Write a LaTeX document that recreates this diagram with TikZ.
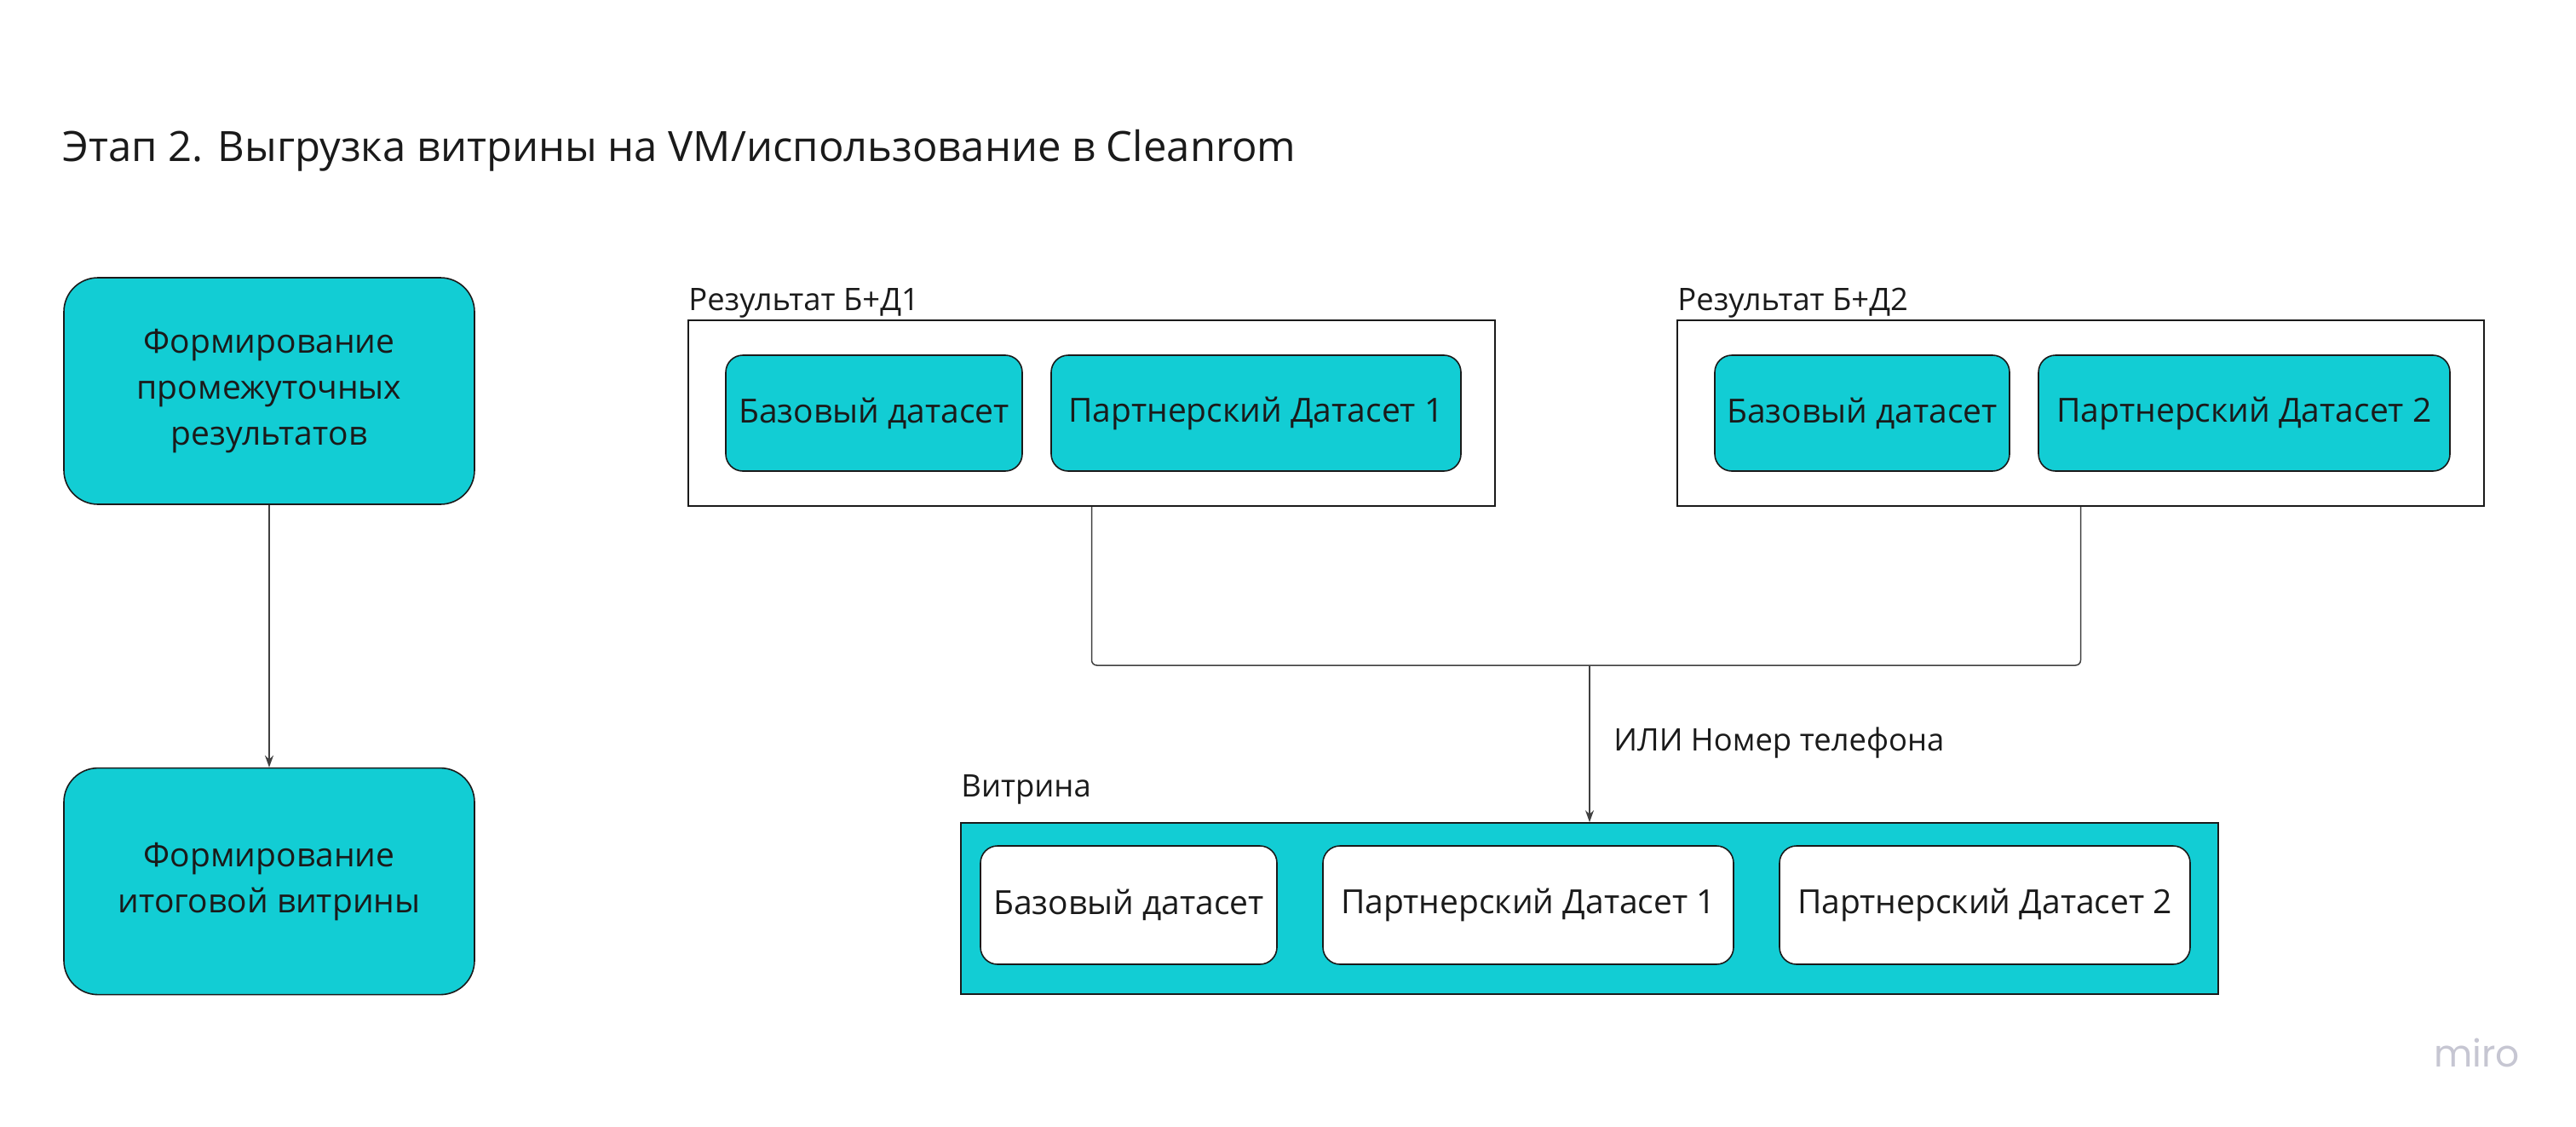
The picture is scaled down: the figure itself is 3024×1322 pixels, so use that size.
\documentclass[tikz,border=0pt]{standalone}
\usepackage{fontspec}
\setmainfont{Open Sans}
\newfontfamily\logofont{Poppins}
\usetikzlibrary{arrows.meta, positioning}
\definecolor{miroteal}{HTML}{12CDD4}
\definecolor{miroline}{HTML}{1A1A1A}
\definecolor{mirogrey}{HTML}{C6C6D2}
\tikzset{
  >={Stealth[length=7pt, width=5pt]},
  stage/.style={rectangle, rounded corners=20pt, draw=miroline, line width=0.8pt, fill=miroteal,
              align=center, minimum width=241pt, minimum height=133pt, text=miroline,
              font=\fontsize{19.5}{27}\selectfont},
  grp/.style={rectangle, draw=miroline, line width=0.8pt, minimum height=109pt},
  ds/.style={rectangle, rounded corners=10pt, draw=miroline, line width=0.8pt, fill=miroteal,
              minimum height=68pt, text=miroline, font=\fontsize{19.5}{27}\selectfont},
  dsw/.style={ds, fill=white},
  link/.style={draw=black!75, line width=0.75pt, rounded corners=3pt},
  flow/.style={->, draw=black!75, line width=0.75pt},
  lbl/.style={anchor=base west, inner sep=0pt, text=miroline, font=\fontsize{18.2}{24}\selectfont},
}

\begin{document}
\begin{tikzpicture}[x=0.5pt, y=-0.5pt]
  \useasboundingbox (0,0) rectangle (3024,1322);
  \node[lbl, font=\fontsize{24.5}{30}\selectfont] (title) at (73,189)
    {Этап 2. Выгрузка витрины на VM/использование в Cleanrom};

  % left column
  \node[stage] (form) at (316,459) {Формирование\\промежуточных\\результатов};
  \node[stage, below=154pt of form] (final) {Формирование\\итоговой витрины};
  \draw[flow] (form) -- (final);

  % result B+D1
  \node[grp, minimum width=473.5pt] (resone) at (1281.5,485) {};
  \node[lbl] (resonelbl) at (808,364) {Результат Б+Д1};
  \node[ds, minimum width=174pt] (baseone) at (1026,485) {Базовый датасет};
  \node[ds, minimum width=240.5pt] (partone) at (1474.5,485) {Партнерский Датасет 1};

  % result B+D2
  \node[grp, minimum width=473.5pt] (restwo) at (2442.5,485) {};
  \node[lbl] (restwolbl) at (1969,364) {Результат Б+Д2};
  \node[ds, minimum width=173pt] (basetwo) at (2186,485) {Базовый датасет};
  \node[ds, minimum width=241.5pt] (parttwo) at (2634.5,485) {Партнерский Датасет 2};

  % vitrina
  \node[grp, fill=miroteal, minimum width=738pt, minimum height=100.5pt] (vit) at (1866,1066.5) {};
  \node[lbl] (vitlbl) at (1128,935) {Витрина};
  \node[dsw, minimum width=174pt, minimum height=69.5pt] (vitbase) at (1325,1062.5) {Базовый датасет};
  \node[dsw, minimum width=241pt, minimum height=69.5pt] (vitone) at (1794,1062.5) {Партнерский Датасет 1};
  \node[dsw, minimum width=241pt, minimum height=69.5pt] (vittwo) at (2330,1062.5) {Партнерский Датасет 2};

  \coordinate (join) at (1866,781);
  \draw[link] (resone.south) |- (join) -| (restwo.south);
  \draw[flow] (join) -- (vit.north);
  \node[lbl] (keylbl) at (1894,881) {ИЛИ Номер телефона};

  \node[anchor=base west, inner sep=0pt, text=mirogrey, font=\logofont\fontsize{22}{22}\selectfont]
    (logo) at (2857,1252) {miro};
\end{tikzpicture}
\end{document}
